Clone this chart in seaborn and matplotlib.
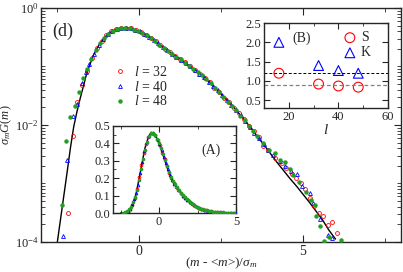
import numpy as np
import pandas as pd
import matplotlib
matplotlib.use('Agg')
import matplotlib.pyplot as plt
import seaborn as sns
from matplotlib.ticker import FixedLocator, NullFormatter, MultipleLocator

# curva teorica, y em log10
x_teo = [-2.5, -2.4, -2.3, -2.2, -2.1, -2.0, -1.9, -1.8, -1.7, -1.6, -1.5, -1.4, -1.3, -1.2, -1.1,
         -1.0, -0.9, -0.8, -0.7, -0.6, -0.5, -0.4, -0.3, -0.2, -0.1, 0.0, 0.2, 0.4, 0.6, 0.8, 1.0,
         1.2, 1.4, 1.6, 1.8, 2.0, 2.2, 2.4, 2.6, 2.8, 3.0, 3.2, 3.4, 3.6, 3.8, 4.0, 4.2, 4.4, 4.6,
         4.8, 5.0, 5.2, 5.4, 5.6, 5.8, 6.0]
logy_teo = [-4.0, -3.6, -3.2, -2.8, -2.39, -2.03, -1.77, -1.54, -1.33, -1.11, -0.96, -0.81, -0.70,
            -0.61, -0.54, -0.47, -0.42, -0.39, -0.36, -0.345, -0.338, -0.34, -0.35, -0.36, -0.38,
            -0.40, -0.46, -0.53, -0.62, -0.70, -0.78, -0.85, -0.93, -1.02, -1.10, -1.19, -1.30,
            -1.41, -1.53, -1.64, -1.77, -1.90, -2.04, -2.19, -2.33, -2.48, -2.63, -2.77, -2.91,
            -3.04, -3.18, -3.32, -3.47, -3.62, -3.80, -3.95]

# l = 32
x_32 = [-2.16, -2.03, -1.90, -1.75, -1.60, -1.45, -1.30, -1.15, -1.00, -0.85, -0.70, -0.55, -0.40,
        -0.25, -0.10, 0.05, 0.20, 0.35, 0.50, 0.65, 0.80, 0.95, 1.10, 1.25, 1.40, 1.55, 1.70, 1.85,
        2.00, 2.15, 2.30, 2.45, 2.60, 2.75, 2.90, 3.05, 3.20, 3.35, 3.50, 3.65, 3.79, 3.95, 4.15,
        4.35, 4.50, 4.66, 4.79, 4.93, 5.06, 5.21, 5.35, 5.50, 5.62, 5.77, 5.90, 6.05]
logy_32 = [-3.51, -2.18, -1.60, -1.32, -1.07, -0.86, -0.69, -0.56, -0.46, -0.40, -0.36, -0.335,
           -0.335, -0.35, -0.38, -0.41, -0.46, -0.51, -0.57, -0.64, -0.70, -0.76, -0.82, -0.875,
           -0.93, -1.00, -1.06, -1.13, -1.19, -1.27, -1.36, -1.44, -1.53, -1.61, -1.71, -1.80,
           -1.90, -2.01, -2.11, -2.20, -2.36, -2.42, -2.57, -2.65, -2.74, -2.83, -2.91, -3.00,
           -3.10, -3.25, -3.38, -3.50, -3.56, -3.71, -3.65, -3.84]

# l = 40
x_40 = [-2.33, -2.19, -2.03, -1.89, -1.75, -1.61, -1.52, -1.38, -1.24, -1.10, -0.96, -0.82, -0.68,
        -0.54, -0.40, -0.26, -0.12, 0.02, 0.16, 0.30, 0.44, 0.58, 0.72, 0.86, 1.00, 1.14, 1.28,
        1.42, 1.56, 1.70, 1.84, 1.98, 2.12, 2.26, 2.40, 2.54, 2.68, 2.82, 2.96, 3.10, 3.24, 3.38,
        3.52, 3.66, 3.80, 3.95, 4.10, 4.30, 4.45, 4.63, 4.81, 4.99, 5.21, 5.31, 5.52, 5.77, 5.88]
logy_40 = [-3.90, -2.59, -1.85, -1.64, -1.29, -1.09, -0.95, -0.79, -0.64, -0.53, -0.45, -0.39,
           -0.355, -0.335, -0.335, -0.35, -0.37, -0.40, -0.44, -0.49, -0.545, -0.60, -0.665,
           -0.72, -0.78, -0.83, -0.885, -0.94, -1.00, -1.06, -1.12, -1.18, -1.26, -1.33, -1.41,
           -1.49, -1.57, -1.66, -1.74, -1.83, -1.93, -2.03, -2.13, -2.22, -2.32, -2.42, -2.51,
           -2.61, -2.70, -2.78, -2.84, -3.05, -3.17, -3.34, -3.60, -3.88, -3.94]

# l = 48
x_48 = [-2.36, -2.23, -2.10, -1.95, -1.83, -1.72, -1.59, -1.46, -1.33, -1.20, -1.07, -0.94, -0.81,
        -0.68, -0.55, -0.42, -0.29, -0.16, -0.03, 0.10, 0.23, 0.36, 0.49, 0.62, 0.75, 0.88, 1.01,
        1.14, 1.27, 1.40, 1.53, 1.66, 1.79, 1.92, 2.05, 2.18, 2.31, 2.44, 2.57, 2.70, 2.83, 2.96,
        3.09, 3.22, 3.35, 3.48, 3.61, 3.79, 3.97, 4.15, 4.30, 4.45, 4.60, 4.70, 4.89, 5.11, 5.25,
        5.37, 5.40, 5.52, 5.65, 5.80, 6.16]
logy_48 = [-3.37, -2.27, -1.87, -1.67, -1.44, -1.20, -1.04, -0.87, -0.72, -0.60, -0.51, -0.44,
           -0.39, -0.355, -0.34, -0.34, -0.35, -0.37, -0.395, -0.43, -0.47, -0.515, -0.57,
           -0.625, -0.68, -0.73, -0.785, -0.83, -0.88, -0.935, -0.99, -1.05, -1.10, -1.15,
           -1.22, -1.29, -1.37, -1.44, -1.52, -1.60, -1.67, -1.75, -1.84, -1.92, -2.01, -2.11,
           -2.19, -2.31, -2.43, -2.48, -2.60, -2.63, -2.76, -2.85, -2.97, -3.14, -3.28, -3.37,
           -3.56, -3.73, -3.98, -3.91, -3.97]

# inset B: skewness (S) e kurtosis (K)
l_vals = [16, 32, 40, 48]
S_vals = [1.20, 0.92, 0.87, 0.84]
K_vals = [2.00, 1.40, 1.27, 1.20]

sns.set_style('ticks')
plt.rcParams['font.family'] = ['Liberation Serif', 'DejaVu Serif']
plt.rcParams['mathtext.fontset'] = 'custom'
plt.rcParams['mathtext.rm'] = 'Liberation Serif'
plt.rcParams['mathtext.it'] = 'Liberation Serif:italic'
plt.rcParams['mathtext.bf'] = 'Liberation Serif:bold'
plt.rcParams['axes.linewidth'] = 1.0
plt.rcParams['xtick.direction'] = 'in'
plt.rcParams['ytick.direction'] = 'in'

teo = pd.DataFrame({'x': x_teo, 'y': np.power(10.0, logy_teo)})
d32 = pd.DataFrame({'x': x_32, 'y': np.power(10.0, logy_32)})
d40 = pd.DataFrame({'x': x_40, 'y': np.power(10.0, logy_40)})
d48 = pd.DataFrame({'x': x_48, 'y': np.power(10.0, logy_48)})

fig = plt.figure(figsize=(4.03, 2.72), dpi=100)
ax = fig.add_axes([0.1017, 0.1103, 0.8933, 0.8603])


def desenha(a, ms_o, ms_t, ms_g):
    sns.lineplot(data=teo, x='x', y='y', ax=a, color='black', lw=1.0, sort=False,
                 estimator=None, zorder=1)
    a.plot(d32['x'], d32['y'], 'o', mfc='none', mec='red', ms=ms_o, mew=0.6,
           label=r'$l$ = 32', zorder=2)
    a.plot(d40['x'], d40['y'], '^', mfc='none', mec='blue', ms=ms_t, mew=0.6,
           label=r'$l$ = 40', zorder=3)
    a.plot(d48['x'], d48['y'], 'o', color='#22a022', mec='#22a022', ms=ms_g,
           label=r'$l$ = 48', zorder=4)


desenha(ax, 2.8, 2.8, 2.2)
ax.set_yscale('log')
ax.set_xlim(-3, 8)
ax.set_ylim(1e-4, 1)
ax.set_xticks([0, 5])
ax.xaxis.set_minor_locator(FixedLocator([-2.5, 2.5, 7.5]))
ax.set_yticks([1e-4, 1e-2, 1])
ax.set_yticklabels([r'$10^{-4}$', r'$10^{-2}$', r'$10^{0}$'])
minors = [m * 10.0 ** e for e in range(-4, 0) for m in range(2, 10)] + [1e-3, 1e-1]
ax.yaxis.set_minor_locator(FixedLocator(minors))
ax.yaxis.set_minor_formatter(NullFormatter())
ax.tick_params(which='both', top=True, right=True, labelsize=10, pad=2)
ax.tick_params(axis='y', labelsize=9, pad=1.5)
ax.tick_params(which='major', length=5)
ax.tick_params(which='minor', length=3)
ax.set_xlabel(r'($m$ - <$m$>)/$\sigma_m$', fontsize=9.5)
ax.set_ylabel(r'$\sigma_m G(m)$', fontsize=9)
ax.xaxis.set_label_coords(0.5, -0.06)
ax.yaxis.set_label_coords(-0.074, 0.5)
ax.text(0.03, 0.9, '(d)', transform=ax.transAxes, fontsize=13, va='center')
leg = ax.legend(loc='upper left', bbox_to_anchor=(0.19, 0.78), frameon=False, fontsize=10,
                handlelength=0.8, handletextpad=0.6, labelspacing=0.05, borderaxespad=0)

# inset A
axa = fig.add_axes([0.2804, 0.2169, 0.3052, 0.3199])
desenha(axa, 2.0, 2.0, 1.6)
axa.set_xlim(-3, 5)
axa.set_ylim(0, 0.5)
axa.set_xticks([0, 5])
axa.xaxis.set_minor_locator(MultipleLocator(2.5))
axa.set_yticks([0.0, 0.1, 0.2, 0.3, 0.4, 0.5])
axa.set_yticklabels(['0.0', '0.1', '0.2', '0.3', '0.4', '0.5'])
axa.yaxis.set_minor_locator(MultipleLocator(0.05))
axa.tick_params(which='both', top=True, right=True, labelsize=9, pad=2)
axa.tick_params(which='major', length=4)
axa.tick_params(which='minor', length=2)
axa.set_xlabel('')
axa.set_ylabel('')
axa.text(0.8, 0.72, '(A)', transform=axa.transAxes, fontsize=10, ha='center', va='center')

# inset B
axb = fig.add_axes([0.6551, 0.6029, 0.3077, 0.3125])
axb.axhline(1.2, color='black', ls=(0, (3, 2)), lw=0.7)
axb.axhline(0.9, color='gray', ls=(0, (3, 2)), lw=0.9)
sns.scatterplot(x=l_vals, y=S_vals, ax=axb, marker='o', s=50, facecolors='none',
                edgecolors='red', linewidth=0.8, label='S')
sns.scatterplot(x=l_vals, y=K_vals, ax=axb, marker='^', s=50, facecolors='none',
                edgecolors='blue', linewidth=0.8, label='K')
axb.set_xlim(10, 60)
axb.set_ylim(0.3, 2.5)
axb.set_xticks([20, 40, 60])
axb.xaxis.set_minor_locator(MultipleLocator(10))
axb.set_yticks([0.5, 1.0, 1.5, 2.0, 2.5])
axb.set_yticklabels(['0.5', '1.0', '1.5', '2.0', '2.5'])
axb.tick_params(which='both', top=True, right=True, labelsize=9, pad=2)
axb.tick_params(which='major', length=4)
axb.tick_params(which='minor', length=2)
axb.set_xlabel(r'$l$', fontsize=11, labelpad=0)
axb.set_ylabel('')
axb.text(0.3, 0.82, '(B)', transform=axb.transAxes, fontsize=10, ha='center', va='center')
axb.legend(loc='upper right', bbox_to_anchor=(0.93, 1.0), frameon=False, fontsize=10,
           handletextpad=0.3, labelspacing=0.15, borderaxespad=0.2, handlelength=1.0)

fig.savefig('out.png', dpi=100)
